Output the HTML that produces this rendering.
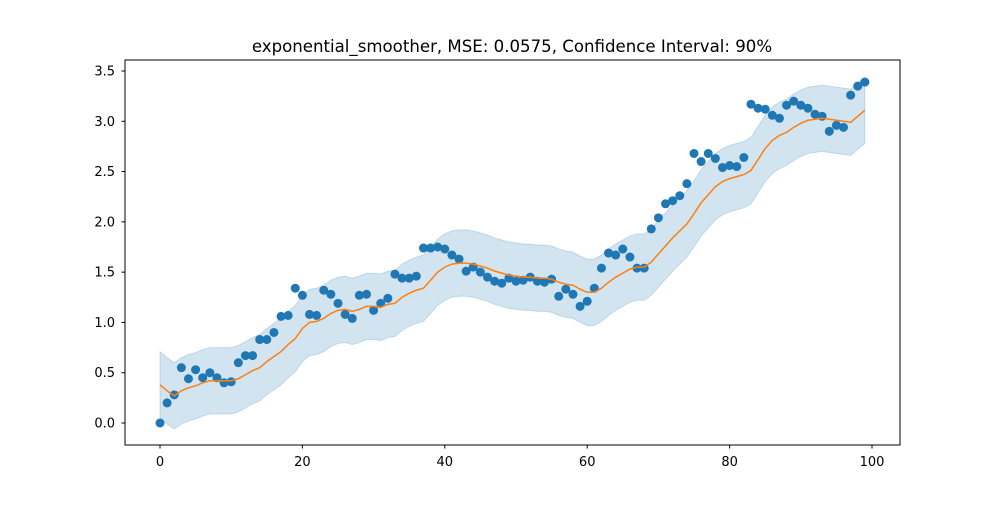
<!DOCTYPE html>
<html><head><meta charset="utf-8"><style>
body{margin:0;background:#fff}
svg text{font-family:"DejaVu Sans","Liberation Sans",sans-serif;fill:#000}
</style></head><body>
<svg id="chart" width="1000" height="500" xmlns="http://www.w3.org/2000/svg">
<rect width="1000" height="500" fill="#fff"/>
<text x="512" y="52" font-size="16.6" text-anchor="middle">exponential_smoother, MSE: 0.0575, Confidence Interval: 90%</text>
<g id="plot"></g>
<rect x="125" y="60" width="775" height="385" fill="none" stroke="#000" stroke-width="1"/>
</svg>
<script>
const observed=[0.0,0.2,0.28,0.55,0.44,0.53,0.45,0.5,0.45,0.4,0.41,0.6,0.67,0.67,0.83,0.83,0.9,1.06,1.07,1.34,1.27,1.08,1.07,1.32,1.28,1.19,1.08,1.04,1.27,1.28,1.12,1.19,1.24,1.48,1.44,1.44,1.46,1.74,1.74,1.75,1.73,1.67,1.63,1.51,1.55,1.5,1.45,1.41,1.39,1.44,1.41,1.42,1.45,1.41,1.4,1.43,1.26,1.33,1.28,1.16,1.21,1.34,1.54,1.69,1.67,1.73,1.65,1.54,1.54,1.93,2.04,2.18,2.21,2.26,2.38,2.68,2.6,2.68,2.63,2.54,2.56,2.55,2.64,3.17,3.13,3.12,3.06,3.03,3.16,3.2,3.16,3.13,3.07,3.05,2.9,2.96,2.94,3.26,3.35,3.39];
const smoothed=[0.38,0.32,0.27,0.32,0.35,0.37,0.40,0.42,0.42,0.42,0.42,0.44,0.48,0.52,0.55,0.61,0.66,0.71,0.78,0.84,0.94,1.0,1.01,1.04,1.09,1.12,1.13,1.11,1.13,1.16,1.16,1.15,1.18,1.19,1.25,1.29,1.32,1.34,1.42,1.5,1.55,1.58,1.59,1.59,1.58,1.56,1.54,1.51,1.49,1.47,1.46,1.45,1.45,1.44,1.44,1.43,1.40,1.38,1.37,1.33,1.30,1.30,1.34,1.40,1.45,1.49,1.53,1.55,1.55,1.6,1.68,1.76,1.84,1.91,1.98,2.08,2.19,2.27,2.35,2.4,2.43,2.45,2.47,2.51,2.62,2.73,2.81,2.86,2.89,2.94,2.98,3.01,3.02,3.03,3.02,3.01,3.0,2.99,3.05,3.11];
const bandHalfWidth=0.33;
const xTicks=[0,20,40,60,80,100];
const yTicks=[0,0.5,1,1.5,2,2.5,3,3.5];
const yTickLabels=["0.0","0.5","1.0","1.5","2.0","2.5","3.0","3.5"];

const NS="http://www.w3.org/2000/svg";
const X=v=>160+v*7.12;
const Y=v=>423-v*100.57;
const g=document.getElementById('plot');
function mk(t,a){const e=document.createElementNS(NS,t);for(const k in a)e.setAttribute(k,a[k]);g.appendChild(e);return e;}

let up=smoothed.map((v,i)=>X(i)+','+Y(v+bandHalfWidth));
let lo=smoothed.map((v,i)=>X(i)+','+Y(v-bandHalfWidth)).reverse();
const band=mk('polygon',{points:up.concat(lo).join(' '),fill:'#1f77b4','fill-opacity':0.2,stroke:'#1f77b4','stroke-opacity':0.2});



observed.forEach((v,i)=>{
  const c=mk('circle',{cx:X(i),cy:Y(v),r:4.5,fill:'#1f77b4'});
  
  
});
const line=mk('polyline',{points:smoothed.map((v,i)=>X(i)+','+Y(v)).join(' '),fill:'none',stroke:'#ff7f0e','stroke-width':1.5});



xTicks.forEach(t=>{
  const l=mk('line',{x1:X(t),x2:X(t),y1:445,y2:448.5,stroke:'#000'});
  
  
  const tx=mk('text',{x:X(t),y:466,'font-size':13,'text-anchor':'middle'});
  tx.textContent=String(t);
  
  
});
yTicks.forEach((t,i)=>{
  const l=mk('line',{x1:121.5,x2:125,y1:Y(t),y2:Y(t),stroke:'#000'});
  
  
  const tx=mk('text',{x:115,y:Y(t)+4.5,'font-size':13,'text-anchor':'end'});
  tx.textContent=yTickLabels[i];
  
  
});
</script>
</body></html>
